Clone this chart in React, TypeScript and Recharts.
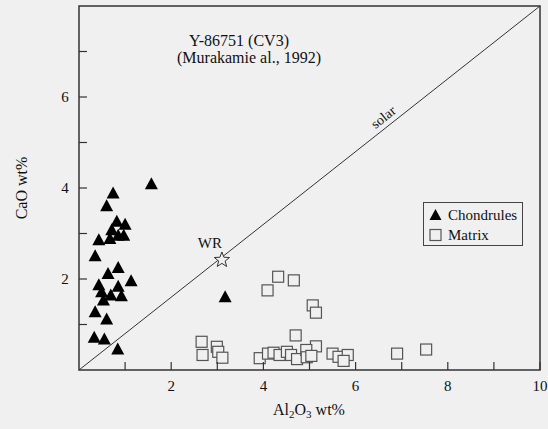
import { ScatterChart, Scatter, XAxis, YAxis, ReferenceLine, ReferenceArea, ReferenceDot } from 'recharts';

const chondrulesAl = [1.57, 0.74, 0.60, 0.82, 1.0, 0.71, 0.85, 0.97, 0.67, 0.43, 0.35, 0.85, 0.63, 1.13, 0.43, 0.85, 0.49, 0.69, 0.92, 0.53, 0.35, 0.60, 0.33, 0.55, 0.84, 3.17];
const chondrulesCa = [4.08, 3.88, 3.60, 3.26, 3.19, 3.07, 2.95, 2.95, 2.88, 2.85, 2.50, 2.24, 2.11, 1.95, 1.86, 1.83, 1.71, 1.64, 1.62, 1.53, 1.27, 1.11, 0.71, 0.67, 0.45, 1.60];

const matrixAl = [4.32, 4.66, 4.09, 5.07, 5.14, 4.70, 5.14, 2.66, 2.68, 2.99, 3.02, 3.11, 3.92, 4.10, 4.22, 4.35, 4.51, 4.60, 4.73, 4.93, 4.94, 5.04, 5.50, 5.63, 5.83, 5.74, 6.90, 7.53];
const matrixCa = [2.05, 1.97, 1.75, 1.42, 1.26, 0.76, 0.52, 0.62, 0.33, 0.51, 0.40, 0.27, 0.26, 0.36, 0.38, 0.33, 0.40, 0.33, 0.24, 0.44, 0.28, 0.31, 0.36, 0.29, 0.33, 0.20, 0.36, 0.45];

const wholeRock = [{ x: 3.10, y: 2.44 }];
const solarLine = [{ x: 0, y: 0 }, { x: 10, y: 8 }];

const xTicks = [1, 2, 3, 4, 5, 6, 7, 8, 9, 10];
const yTicks = [1, 2, 3, 4, 5, 6, 7];

const chondrules = chondrulesAl.map((x, i) => ({ x, y: chondrulesCa[i] }));
const matrix = matrixAl.map((x, i) => ({ x, y: matrixCa[i] }));

const FONT = '"Liberation Serif", "DejaVu Serif", serif';
const BG = '#f0f0f0';
const INK = '#333';

const Triangle = (p: any) => (
  <polygon points={`${p.cx},${p.cy - 7} ${p.cx - 6.5},${p.cy + 5} ${p.cx + 6.5},${p.cy + 5}`} fill="#000" />
);

const Square = (p: any) => (
  <rect x={p.cx - 5.5} y={p.cy - 5.5} width={11} height={11} fill={BG} stroke="#555" strokeWidth={1.2} />
);

function starPoints(cx: number, cy: number, ro: number, ri: number) {
  const pts: string[] = [];
  for (let i = 0; i < 10; i++) {
    const r = i % 2 === 0 ? ro : ri;
    const a = -Math.PI / 2 + (i * Math.PI) / 5;
    pts.push(`${cx + r * Math.cos(a)},${cy + r * Math.sin(a)}`);
  }
  return pts.join(' ');
}

const Star = (p: any) => (
  <g>
    <polygon points={starPoints(p.cx, p.cy + 1, 8, 3.4)} fill={BG} stroke="#333" strokeWidth={1} />
    <text x={p.cx - 12} y={p.cy - 11} textAnchor="middle" fontFamily={FONT} fontSize={15} fill="#111">WR</text>
  </g>
);

const XTick = (p: any) => {
  const v = p.payload.value;
  return (
    <g>
      <line x1={p.x} y1={p.y} x2={p.x} y2={p.y - 8} stroke={INK} strokeWidth={1.2} />
      {v % 2 === 0 && (
        <text x={p.x} y={p.y + 21} textAnchor="middle" fontFamily={FONT} fontSize={15} fill="#111">{v}</text>
      )}
    </g>
  );
};

const YTick = (p: any) => {
  const v = p.payload.value;
  return (
    <g>
      <line x1={p.x} y1={p.y} x2={p.x + 8} y2={p.y} stroke={INK} strokeWidth={1.2} />
      {v % 2 === 0 && (
        <text x={p.x - 14} y={p.y + 5} textAnchor="middle" fontFamily={FONT} fontSize={15} fill="#111">{v}</text>
      )}
    </g>
  );
};

const SolarLabel = (p: any) => (
  <text
    x={p.cx}
    y={p.cy}
    textAnchor="middle"
    dominantBaseline="middle"
    fontFamily={FONT}
    fontSize={14}
    fill="#111"
    transform={`rotate(-38.4, ${p.cx}, ${p.cy})`}
  >
    solar
  </text>
);

export default function App() {
  return (
    <div style={{ position: 'fixed', left: 0, top: 0, width: 548, height: 429, background: BG, fontFamily: FONT }}>
      <ScatterChart width={548} height={429} margin={{ top: 6, right: 8, bottom: 0, left: 0 }}>
        <XAxis
          type="number"
          dataKey="x"
          domain={[0, 10]}
          ticks={xTicks}
          tick={XTick}
          tickSize={0}
          tickMargin={0}
          tickLine={false}
          axisLine={false}
          height={59}
          allowDataOverflow
        />
        <YAxis
          type="number"
          dataKey="y"
          domain={[0, 8]}
          ticks={yTicks}
          tick={YTick}
          tickSize={0}
          tickMargin={0}
          tickLine={false}
          axisLine={false}
          width={79}
          allowDataOverflow
        />
        <ReferenceArea x1={0} x2={10} y1={0} y2={8} fill="none" stroke={INK} strokeWidth={1.5} ifOverflow="visible" />
        <ReferenceLine segment={solarLine} stroke="#333" strokeWidth={1} />
        <ReferenceDot x={6.62} y={5.53} r={0} shape={SolarLabel} />
        <Scatter data={matrix} shape={Square} isAnimationActive={false} />
        <Scatter data={chondrules} shape={Triangle} isAnimationActive={false} />
        <Scatter data={wholeRock} shape={Star} isAnimationActive={false} />
      </ScatterChart>

      <div style={{ position: 'absolute', left: 239, top: 32, transform: 'translateX(-50%)', whiteSpace: 'nowrap', fontSize: 16, lineHeight: '17px', color: '#111' }}>
        Y-86751 (CV3)
      </div>
      <div style={{ position: 'absolute', left: 249, top: 49, transform: 'translateX(-50%)', whiteSpace: 'nowrap', fontSize: 16, lineHeight: '17px', color: '#111' }}>
        (Murakamie al., 1992)
      </div>

      <div style={{ position: 'absolute', left: 22, top: 188, transform: 'translate(-50%, -50%) rotate(-90deg)', whiteSpace: 'nowrap', fontSize: 16, color: '#111' }}>
        CaO wt%
      </div>

      <div style={{ position: 'absolute', left: 309, top: 401, transform: 'translateX(-50%)', whiteSpace: 'nowrap', fontSize: 16, color: '#111' }}>
        Al<sub style={{ fontSize: 11, verticalAlign: '-3px' }}>2</sub>O<sub style={{ fontSize: 11, verticalAlign: '-3px' }}>3</sub> wt%
      </div>

      <div style={{ position: 'absolute', left: 423, top: 202, width: 100, height: 44, border: '1px solid #444', boxSizing: 'border-box', fontSize: 15, color: '#111' }}>
        <div style={{ position: 'absolute', left: 5, top: 3, display: 'flex', alignItems: 'center', height: 18 }}>
          <svg width={14} height={14}><polygon points="6.5,1 0.5,12 12.5,12" fill="#000" /></svg>
          <span style={{ marginLeft: 5 }}>Chondrules</span>
        </div>
        <div style={{ position: 'absolute', left: 5, top: 23, display: 'flex', alignItems: 'center', height: 18 }}>
          <svg width={14} height={14}><rect x={1} y={1.5} width={11} height={11} fill={BG} stroke="#555" strokeWidth={1.2} /></svg>
          <span style={{ marginLeft: 5 }}>Matrix</span>
        </div>
      </div>
    </div>
  );
}
